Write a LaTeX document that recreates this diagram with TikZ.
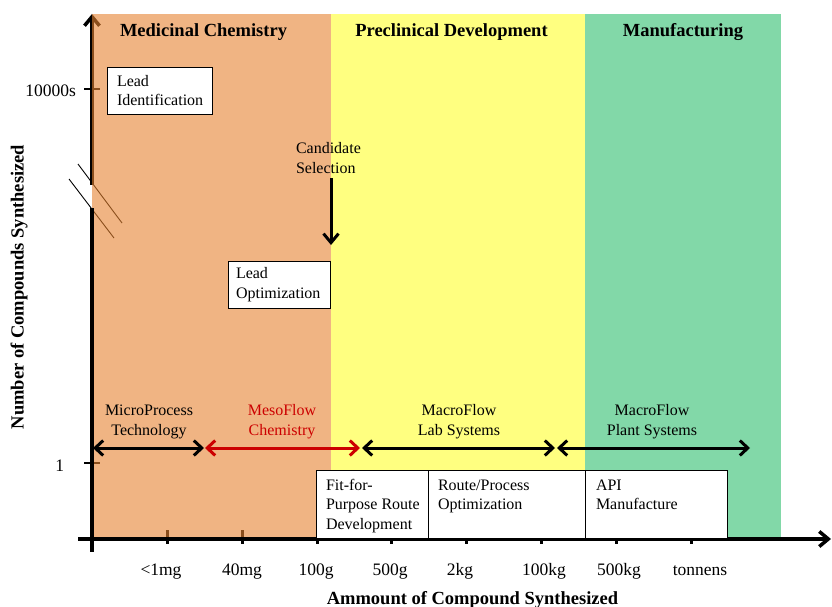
\documentclass[tikz,border=0pt]{standalone}
\usepackage{fontspec}
\setmainfont{Liberation Serif}
\usetikzlibrary{arrows.meta}
% phase colours, laid over the axes with partial opacity
\definecolor{medfill}{RGB}{230,130,48}
\definecolor{prefill}{RGB}{255,255,43}
\definecolor{manfill}{RGB}{47,190,110}
\definecolor{mesored}{RGB}{204,0,0}

\begin{document}
\begin{tikzpicture}[x=1pt,y=-1pt,
  every node/.style={inner sep=0pt, outer sep=0pt},
  phase/.style={draw=none, fill opacity=0.6, anchor=north west},
  lbl/.style={font=\fontsize{16}{19.5}\selectfont, align=center},
  boxtext/.style={font=\fontsize{16}{19.5}\selectfont, align=left},
  stagebox/.style={draw=black, line width=0.9pt, fill=white, anchor=north west},
  headline/.style={font=\fontsize{18.5}{22}\selectfont\bfseries},
  axistitle/.style={font=\fontsize{18.5}{22}\selectfont\bfseries},
  ticklbl/.style={font=\fontsize{17.5}{20}\selectfont},
  axisline/.style={line width=3.5pt},
  tickmark/.style={line width=3pt},
  span/.style={line width=3pt, {Straight Barb[length=8pt,width=15pt]}-{Straight Barb[length=8pt,width=15pt]}},
]
\useasboundingbox (0,0) rectangle (832,607);

% ---- axis pieces that sit below the phase colours ----
\coordinate (ybreakhi) at (92,185);
\coordinate (ytop) at (92,14);
\coordinate (ybreaklo) at (92,208);
\coordinate (ybottom) at (92,552);
\coordinate (xleft) at (78,539);
\coordinate (xright) at (831,539);

\draw[axisline, -{Straight Barb[length=9pt,width=15pt]}] (ybreakhi) -- (ytop);
% axis break marks
\coordinate (bra) at (78,164);  \coordinate (brb) at (122,223);
\coordinate (brc) at (69,179);  \coordinate (brd) at (114,238);
\draw[line width=0.9pt] (bra) -- (brb);
\draw[line width=0.9pt] (brc) -- (brd);

% y ticks
\foreach \yy/\nm in {89/yt1, 463/yt0} {
  \coordinate (\nm a) at (84,\yy); \coordinate (\nm b) at (100,\yy);
  \draw[line width=2pt] (\nm a) -- (\nm b);
}
% x ticks
\foreach \xx [count=\i] in {167,242,317,391,466,541,616,691} {
  \coordinate (xt\i a) at (\xx,530); \coordinate (xt\i b) at (\xx,544);
  \draw[tickmark] (xt\i a) -- (xt\i b);
}

% ---- development phases ----
\node[phase, fill=medfill, minimum width=239, minimum height=523] (med) at (92,14) {};
\node[phase, fill=prefill, minimum width=254, minimum height=523] (pre) at (331,14) {};
\node[phase, fill=manfill, minimum width=196, minimum height=523] (man) at (585,14) {};

\node[headline, anchor=base] (medt) at (203.5,37) {Medicinal Chemistry};
\node[headline, anchor=base] (pret) at (451.5,37) {Preclinical Development};
\node[headline, anchor=base] (mant) at (683,37) {Manufacturing};

% ---- axes drawn over the phases ----
\draw[axisline] (ybreaklo) -- (ybottom);
\draw[axisline, -{Straight Barb[length=9pt,width=15pt]}] (xleft) -- (xright);

% axis labels
\node[ticklbl, anchor=base east] (l10000) at (76,97) {10000s};
\node[ticklbl, anchor=base east] (l1) at (64,471) {1};
\foreach \xx/\tx [count=\i] in {161/{<1mg},242/40mg,316/100g,390/500g,460/2kg,544/100kg,619/500kg,700/tonnens} {
  \node[ticklbl, anchor=base] (xl\i) at (\xx,575) {\tx};
}
\node[axistitle, rotate=90] (ytitle) at (19,287) {Number of Compounds Synthesized};
\node[axistitle, anchor=base] (xtitle) at (472.5,604) {Ammount of Compound Synthesized};

% ---- discovery milestones ----
\node[stagebox, minimum width=105, minimum height=47] (leadid) at (107,67) {};
\node[boxtext, anchor=west] (leadidt) at ([xshift=10]leadid.west) {Lead\\Identification};

\node[stagebox, minimum width=102, minimum height=47] (leadopt) at (228,261) {};
\node[boxtext, anchor=west] (leadoptt) at ([xshift=8]leadopt.west) {Lead\\Optimization};

% multi-line nodes: the base anchor sits on the last line
\node[boxtext, anchor=base west] (cand) at (296,173) {Candidate\\Selection};
\coordinate (candfrom) at (331,178);
\coordinate (candto) at (331,245);
\draw[line width=3pt, -{Straight Barb[length=9pt,width=15pt]}] (candfrom) -- (candto);

% ---- technology spans ----
\coordinate (s0) at (93,448);
\coordinate (s1) at (204,448);
\coordinate (s2) at (205,448);
\coordinate (s3) at (360,448);
\coordinate (s4) at (362,448);
\coordinate (s5) at (555,448);
\coordinate (s6) at (557,448);
\coordinate (s7) at (750,448);
\draw[span] (s0) -- (s1);
\draw[span, draw=mesored] (s2) -- (s3);
\draw[span] (s4) -- (s5);
\draw[span] (s6) -- (s7);

\node[lbl, anchor=base] (micro) at (149,435) {MicroProcess\\Technology};
\node[lbl, anchor=base, text=mesored] (meso) at (282,435) {MesoFlow\\Chemistry};
\node[lbl, anchor=base] (macrolab) at (459,435) {MacroFlow\\Lab Systems};
\node[lbl, anchor=base] (macroplant) at (652,435) {MacroFlow\\Plant Systems};

% ---- process stages ----
\node[stagebox, minimum width=112, minimum height=68] (fit) at (316,470) {};
\node[stagebox, minimum width=157, minimum height=68] (route) at (428,470) {};
\node[stagebox, minimum width=142, minimum height=68] (api) at (585,470) {};
\node[boxtext, anchor=base west] (fitt) at (326,529) {Fit-for-\\Purpose Route\\Development};
\node[boxtext, anchor=base west] (routet) at (438,509.5) {Route/Process\\Optimization};
\node[boxtext, anchor=base west] (apit) at (596,509.5) {API\\Manufacture};
\end{tikzpicture}
\end{document}
